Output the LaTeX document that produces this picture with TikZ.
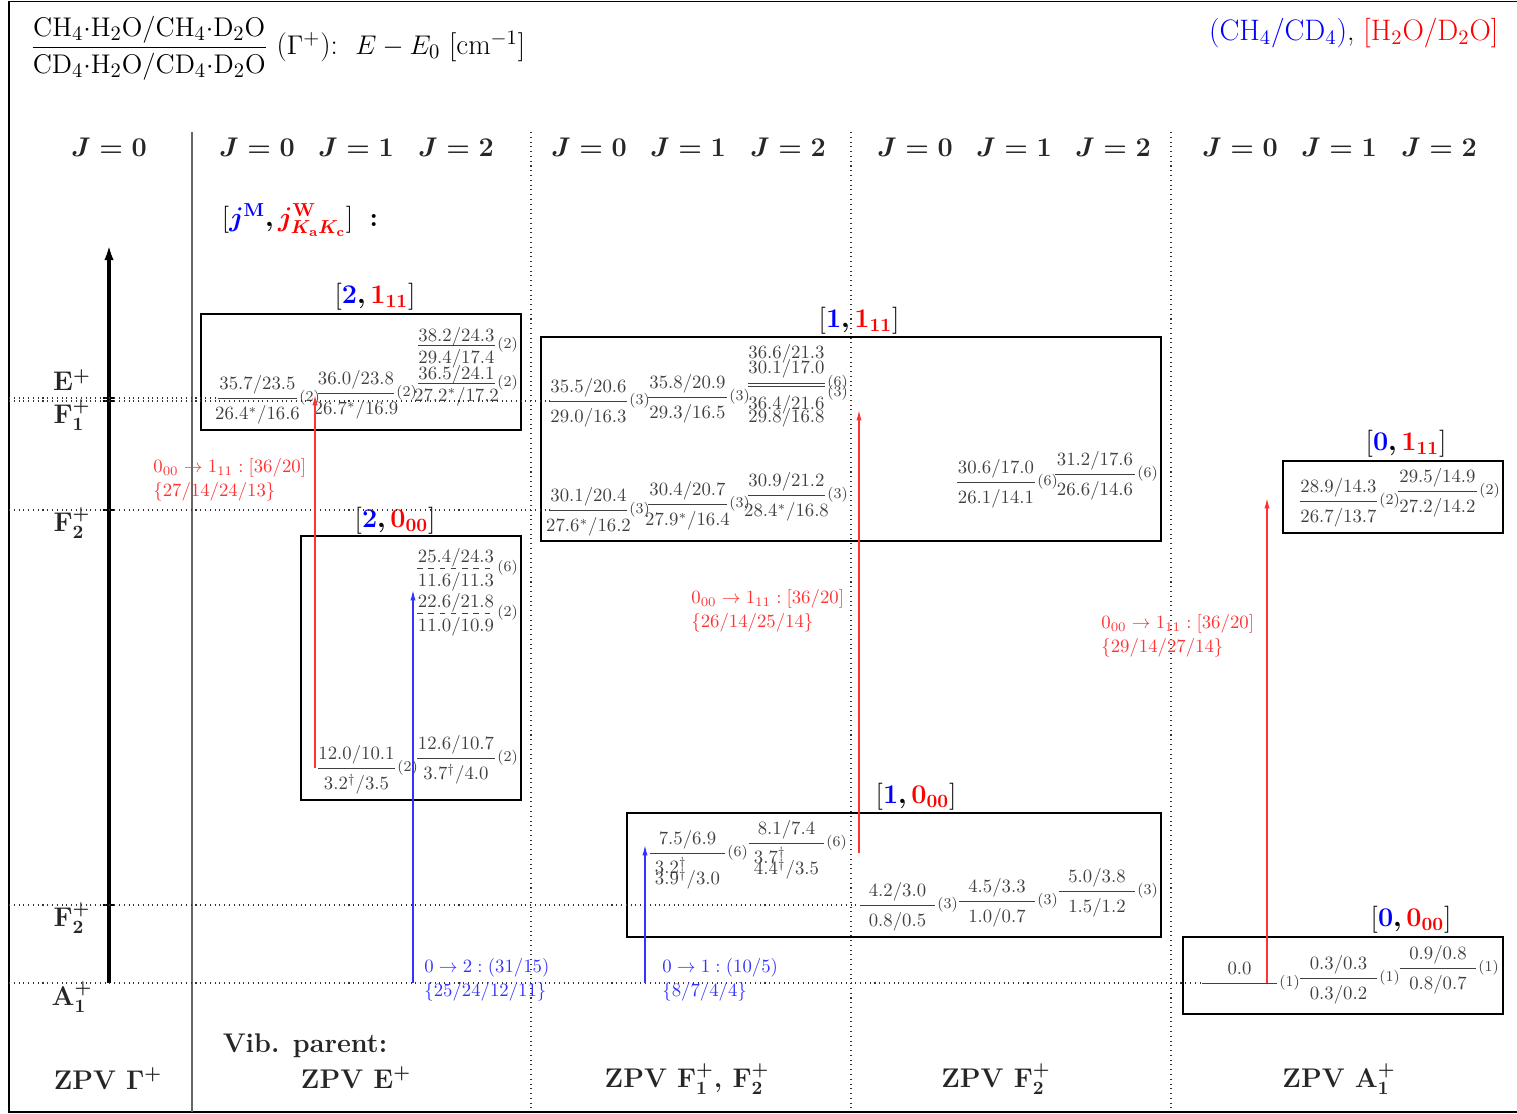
\documentclass[tikz,border=0pt]{standalone}
\usepackage{amsmath,amssymb,bm}
\usetikzlibrary{arrows.meta}

\tikzset{
  niv/.style={line width=0.5pt, black!75},
  num/.style={anchor=base, yshift=4.3pt, inner sep=0pt},
  den/.style={anchor=base, yshift=-11.7pt, inner sep=0pt},
  deg/.style={anchor=west, inner sep=1pt, font=\footnotesize},
  boite/.style={line width=1.2pt},
  pointille/.style={dotted, line width=0.55pt, black!80},
  entete/.style={font=\Large\boldmath, text=black!85},
  pied/.style={font=\Large\bfseries\boldmath, text=black!85},
  groupe/.style={font=\Large},
  flr/.style={-{Latex[length=5.5pt,width=2.8pt]}, line width=0.7pt, red!80},
  flb/.style={-{Latex[length=5.5pt,width=2.8pt]}, line width=0.7pt, blue!80},
  etiq/.style={anchor=west, align=left, inner sep=0pt},
}

\begin{document}
\begin{tikzpicture}[x=0.5333pt, y=-0.5333pt]
\useasboundingbox (0,0) rectangle (1517,1114);

% Cadre et colonnes
\draw[line width=1pt] (9,1.5) rectangle (1530,1112);
\draw[black!60, line width=0.6pt] (192,132) -- (192,1112);
\foreach \x in {531,851,1171}
  \draw[pointille] (\x,132) -- (\x,1112);
\coordinate (g) at (9,0);

% Titre
\node[anchor=west, font=\fontsize{15.5}{18}\selectfont] (titre) at (24,48)
  {$\dfrac{\mathrm{CH_4{\cdot}H_2O/CH_4{\cdot}D_2O}}{\mathrm{CD_4{\cdot}H_2O/CD_4{\cdot}D_2O}}$ ($\Gamma^+$):\ \ $E-E_0$\ [cm$^{-1}$]};
\node[anchor=east, font=\fontsize{15.8}{18}\selectfont] (legende) at (1505,33)
  {{\color{blue}(CH$_4$/CD$_4$)}, {\color{red}[H$_2$O/D$_2$O]}};

% En-tetes J
\node[entete] (j0) at (109,147) {$J=0$};
\foreach \x/\j [count=\i] in {257/0,356/1,456/2,589/0,688/1,788/2,915/0,1014/1,1113/2,1240/0,1339/1,1439/2}
  \node[entete] (j\i) at (\x,147) {$J=\j$};
\node[groupe] (lj) at (300,220)
  {$[\textcolor{blue}{\bm{j^{\mathrm{M}}}}\bm{,}\textcolor{red}{\bm{j^{\mathrm{W}}_{K_{\mathrm{a}}K_{\mathrm{c}}}}}]\ \bm{:}$};

% Axe
\draw[line width=1.7pt, -{Latex[length=8pt,width=5pt]}] (109,983) coordinate (axe) -- (109,245) coordinate (haut);
\foreach \y in {398,401,510,905}
  \draw[line width=1.3pt] (103,\y) -- (115,\y);
\node[pied] (lE) at (72,380) {$\mathbf{E}^+$};
\node[pied] (lF1) at (72,415) {$\mathbf{F}_1^+$};
\node[pied] (lF2) at (72,523) {$\mathbf{F}_2^+$};
\node[pied] (lF2b) at (72,918) {$\mathbf{F}_2^+$};
\node[pied] (lA1) at (72,997) {$\mathbf{A}_1^+$};

% Boites
\draw[boite] (201,314) rectangle (521,430);
\draw[boite] (541,337) rectangle (1161,541);
\draw[boite] (301,536) rectangle (521,800);
\draw[boite] (627,813) rectangle (1161,937);
\draw[boite] (1283,461) rectangle (1503,533);
\draw[boite] (1183,937) rectangle (1503,1014);
\node[groupe] (g211) at (375,297) {$[\textcolor{blue}{\bm{2}}\bm{,}\textcolor{red}{\bm{1_{11}}}]$};
\node[groupe] (g111) at (859,321) {$[\textcolor{blue}{\bm{1}}\bm{,}\textcolor{red}{\bm{1_{11}}}]$};
\node[groupe] (g200) at (395,521) {$[\textcolor{blue}{\bm{2}}\bm{,}\textcolor{red}{\bm{0_{00}}}]$};
\node[groupe] (g100) at (916,797) {$[\textcolor{blue}{\bm{1}}\bm{,}\textcolor{red}{\bm{0_{00}}}]$};
\node[groupe] (g011) at (1406,444) {$[\textcolor{blue}{\bm{0}}\bm{,}\textcolor{red}{\bm{1_{11}}}]$};
\node[groupe] (g000) at (1411,920) {$[\textcolor{blue}{\bm{0}}\bm{,}\textcolor{red}{\bm{0_{00}}}]$};

% Niveaux [2,1_11]
\draw[niv] (218,398) coordinate (a0) -- node[num] (a0n) {$35.7/23.5$} node[den] (a0d) {$26.4^*/16.6$} ++(79,0) node[deg] (a0g) {(2)};
\draw[niv] (318,393) coordinate (a1) -- node[num] (a1n) {$36.0/23.8$} node[den] (a1d) {$26.7^*/16.9$} ++(76,0) node[deg] (a1g) {(2)};
\draw[niv] (418,345) coordinate (a2) -- node[num, yshift=-2.2pt] (a2n) {$38.2/24.3$} node[den, yshift=2.1pt] (a2d) {$29.4/17.4$} ++(77,0) node[deg] (a2g) {(2)};
\draw[niv] (418,383) coordinate (a3) -- node[num, yshift=-2.2pt] (a3n) {$36.5/24.1$} node[den, yshift=2.1pt] (a3d) {$27.2^*/17.2$} ++(77,0) node[deg] (a3g) {(2)};

% Niveaux [1,1_11]
\draw[niv] (550,401) coordinate (b0) -- node[num] (b0n) {$35.5/20.6$} node[den] (b0d) {$29.0/16.3$} ++(77,0) node[deg] (b0g) {(3)};
\draw[niv] (648,397) coordinate (b1) -- node[num] (b1n) {$35.8/20.9$} node[den] (b1d) {$29.3/16.5$} ++(79,0) node[deg] (b1g) {(3)};
\draw[niv] (748,383) coordinate (b2) -- node[num, yshift=8.5pt] (b2n) {$36.6/21.3$} node[den, yshift=-2.2pt] (b2d) {$36.4/21.6$} ++(77,0) node[deg] (b2g) {(6)};
\draw[niv] (748,386) coordinate (b3) -- node[num, yshift=2.1pt] (b3n) {$30.1/17.0$} node[den, yshift=-8pt] (b3d) {$29.8/16.8$} ++(77,0) node[deg, yshift=-3.5pt] (b3g) {(3)};
\draw[niv] (550,510) coordinate (b4) -- node[num] (b4n) {$30.1/20.4$} node[den] (b4d) {$27.6^*/16.2$} ++(77,0) node[deg] (b4g) {(3)};
\draw[niv] (648,504) coordinate (b5) -- node[num] (b5n) {$30.4/20.7$} node[den] (b5d) {$27.9^*/16.4$} ++(79,0) node[deg] (b5g) {(3)};
\draw[niv] (748,495) coordinate (b6) -- node[num] (b6n) {$30.9/21.2$} node[den] (b6d) {$28.4^*/16.8$} ++(77,0) node[deg] (b6g) {(3)};
\draw[niv] (957,482) coordinate (b7) -- node[num] (b7n) {$30.6/17.0$} node[den] (b7d) {$26.1/14.1$} ++(78,0) node[deg] (b7g) {(6)};
\draw[niv] (1055,474) coordinate (b8) -- node[num] (b8n) {$31.2/17.6$} node[den] (b8d) {$26.6/14.6$} ++(80,0) node[deg] (b8g) {(6)};

% Niveaux [2,0_00]
\draw[niv, dashed] (417,568) coordinate (c0) -- node[num, yshift=-1.6pt] (c0n) {$25.4/24.3$} node[den, yshift=2.1pt] (c0d) {$11.6/11.3$} ++(78,0) node[deg] (c0g) {(6)};
\draw[niv, dashed] (417,613) coordinate (c1) -- node[num, yshift=-1.6pt] (c1n) {$22.6/21.8$} node[den, yshift=2.1pt] (c1d) {$11.0/10.9$} ++(78,0) node[deg] (c1g) {(2)};
\draw[niv] (318,768) coordinate (c2) -- node[num] (c2n) {$12.0/10.1$} node[den] (c2d) {$3.2^\dagger/3.5$} ++(77,0) node[deg] (c2g) {(2)};
\draw[niv] (417,758) coordinate (c3) -- node[num] (c3n) {$12.6/10.7$} node[den] (c3d) {$3.7^\dagger/4.0$} ++(78,0) node[deg] (c3g) {(2)};

% Niveaux [1,0_00]
\draw[niv] (650,853) coordinate (d0) -- node[num] (d0n) {$7.5/6.9$} node[den, yshift=-5.3pt] (d0d) {\rlap{\raisebox{6.2pt}{$3.2^\dagger$}}$3.9^\dagger/3.0$} ++(75,0) node[deg] (d0g) {(6)};
\draw[niv] (749,843) coordinate (d1) -- node[num] (d1n) {$8.1/7.4$} node[den, yshift=-5.3pt] (d1d) {\rlap{\raisebox{6.2pt}{$3.7^\dagger$}}$4.4^\dagger/3.5$} ++(75,0) node[deg] (d1g) {(6)};
\draw[niv] (860,905) coordinate (d2) -- node[num] (d2n) {$4.2/3.0$} node[den] (d2d) {$0.8/0.5$} ++(75,0) node[deg] (d2g) {(3)};
\draw[niv] (959,901) coordinate (d3) -- node[num] (d3n) {$4.5/3.3$} node[den] (d3d) {$1.0/0.7$} ++(76,0) node[deg] (d3g) {(3)};
\draw[niv] (1059,891) coordinate (d4) -- node[num] (d4n) {$5.0/3.8$} node[den] (d4d) {$1.5/1.2$} ++(76,0) node[deg] (d4g) {(3)};

% Niveaux [0,1_11] et [0,0_00]
\draw[niv] (1300,501) coordinate (e0) -- node[num] (e0n) {$28.9/14.3$} node[den] (e0d) {$26.7/13.7$} ++(77,0) node[deg] (e0g) {(2)};
\draw[niv] (1398,491) coordinate (e1) -- node[num] (e1n) {$29.5/14.9$} node[den] (e1d) {$27.2/14.2$} ++(79,0) node[deg] (e1g) {(2)};
\draw[niv] (1202,983) coordinate (f0) -- node[num] (f0n) {$0.0$} ++(75,0) node[deg] (f0g) {(1)};
\draw[niv] (1300,978) coordinate (f1) -- node[num] (f1n) {$0.3/0.3$} node[den] (f1d) {$0.3/0.2$} ++(77,0) node[deg] (f1g) {(1)};
\draw[niv] (1400,968) coordinate (f2) -- node[num] (f2n) {$0.9/0.8$} node[den] (f2d) {$0.8/0.7$} ++(76,0) node[deg] (f2g) {(1)};

% Lignes de symetrie
\draw[pointille] (g |- a0) -- (a0);
\draw[pointille] (g |- b0) -- (b0);
\draw[pointille] (g |- b4) -- (b4);
\draw[pointille] (g |- d2) -- (d2);
\draw[pointille] (g |- f0) -- (f0);

% Transitions
\coordinate (r1) at (315,395);
\coordinate (t02) at (413,590);
\coordinate (t01) at (645,845);
\coordinate (r2) at (859,410);
\coordinate (r3) at (1267,498);
\draw[flr] (r1 |- c2) -- (r1);
\draw[flb] (t02 |- f0) -- (t02);
\draw[flb] (t01 |- f0) -- (t01);
\draw[flr] (r2 |- d0) -- (r2);
\draw[flr] (r3 |- f0) -- (r3);
\node[etiq, text=red!80] (lr1) at (153,480) {$0_{00}\rightarrow 1_{11}:[36/20]$\\[1pt]$\{27/14/24/13\}$};
\node[etiq, text=blue!80] (lb1) at (424,980) {$0\rightarrow 2:(31/15)$\\[1pt]$\{25/24/12/11\}$};
\node[etiq, text=blue!80] (lb2) at (662,980) {$0\rightarrow 1:(10/5)$\\[1pt]$\{8/7/4/4\}$};
\node[etiq, text=red!80] (lr2) at (691,611) {$0_{00}\rightarrow 1_{11}:[36/20]$\\[1pt]$\{26/14/25/14\}$};
\node[etiq, text=red!80] (lr3) at (1101,636) {$0_{00}\rightarrow 1_{11}:[36/20]$\\[1pt]$\{29/14/27/14\}$};

% Pied
\node[pied] (p0) at (108,1079) {ZPV $\Gamma^+$};
\node[pied] (vib) at (305,1046) {Vib. parent:};
\node[pied] (p1) at (356,1078) {ZPV $\mathbf{E}^+$};
\node[pied] (p2) at (687,1079) {ZPV $\mathbf{F}_1^+$, $\mathbf{F}_2^+$};
\node[pied] (p3) at (996,1079) {ZPV $\mathbf{F}_2^+$};
\node[pied] (p4) at (1339,1079) {ZPV $\mathbf{A}_1^+$};

\end{tikzpicture}
\end{document}
